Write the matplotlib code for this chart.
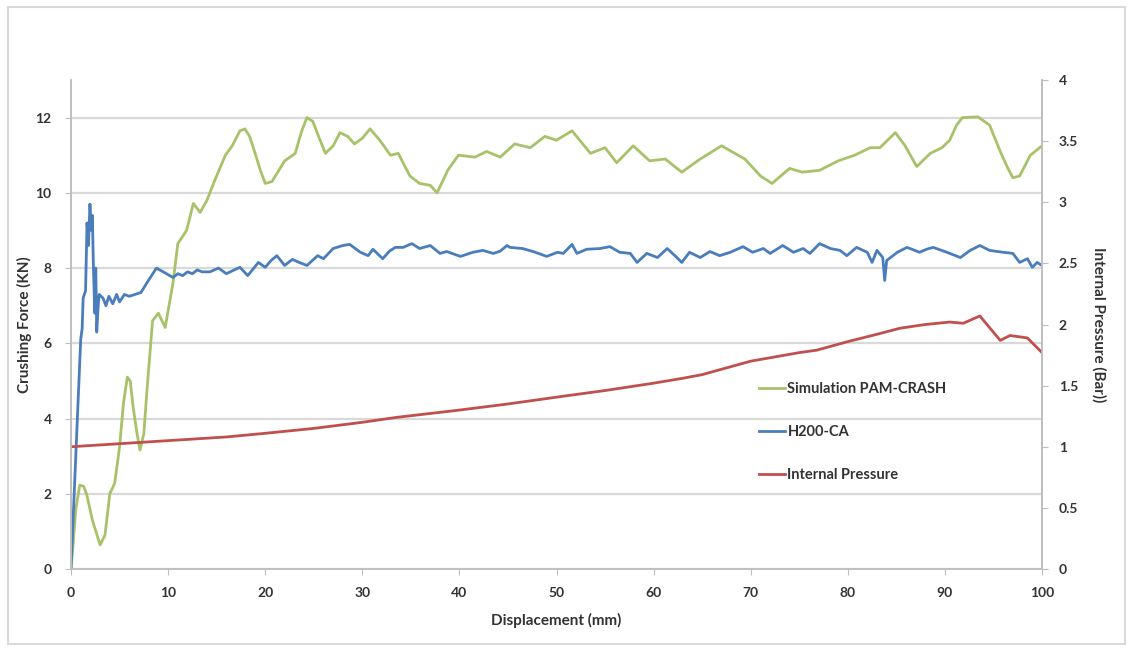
import matplotlib.pyplot as plt
from matplotlib.patches import Rectangle

plt.rcParams['font.family'] = ['Lato', 'DejaVu Sans']

# Simulation PAM-CRASH (KN)
sim_x = [0, 0.2, 0.5, 0.9, 1.3, 1.6, 2.2, 3.0, 3.5, 4.0, 4.5, 5.0, 5.4, 5.8, 6.1, 6.4,
         6.8, 7.1, 7.5, 7.8, 8.4, 9.0, 9.7, 10.5, 11.0, 11.9, 12.6, 13.3, 14.0, 14.8,
         15.9, 16.6, 17.4, 17.9, 18.4, 18.9, 19.5, 20.0, 20.7, 22.0, 23.1, 23.7, 24.3,
         24.9, 25.5, 26.2, 27.0, 27.7, 28.5, 29.2, 30.0, 30.8, 31.8, 32.9, 33.7, 34.9,
         35.9, 37.0, 37.7, 38.8, 39.9, 41.6, 42.8, 44.2, 45.7, 47.3, 48.8, 50.0, 51.6,
         53.5, 55.0, 56.2, 57.9, 59.6, 61.2, 62.9, 64.8, 67.0, 69.4, 71.0, 72.2, 74.0,
         75.3, 77.1, 79.0, 80.7, 82.3, 83.3, 84.3, 84.9, 85.9, 87.1, 88.5, 89.7, 90.5,
         91.2, 91.8, 93.4, 94.6, 95.7, 96.4, 97.0, 97.7, 98.3, 98.8, 100]
sim_y = [0, 0.6, 1.6, 2.23, 2.2, 2.0, 1.3, 0.64, 0.9, 2.0, 2.28, 3.24, 4.4, 5.1, 5.0, 4.3,
         3.6, 3.16, 3.6, 4.67, 6.6, 6.8, 6.42, 7.6, 8.65, 9.0, 9.72, 9.48, 9.8, 10.33,
         11.0, 11.25, 11.65, 11.7, 11.5, 11.1, 10.6, 10.25, 10.3, 10.85, 11.05, 11.6, 12.0,
         11.9, 11.5, 11.05, 11.25, 11.6, 11.5, 11.3, 11.45, 11.7, 11.4, 11.0, 11.05, 10.45,
         10.25, 10.2, 10.0, 10.6, 11.0, 10.95, 11.1, 10.95, 11.3, 11.2, 11.5, 11.4, 11.65,
         11.05, 11.2, 10.8, 11.25, 10.85, 10.9, 10.55, 10.9, 11.25, 10.9, 10.45, 10.25, 10.65,
         10.55, 10.6, 10.85, 11.0, 11.2, 11.2, 11.45, 11.6, 11.25, 10.7, 11.05, 11.2, 11.4,
         11.8, 12.0, 12.02, 11.8, 11.1, 10.7, 10.4, 10.45, 10.75, 11.0, 11.25]

# H200-CA test (KN)
test_x = [0, 1.0, 1.15, 1.25, 1.5, 1.65, 1.8, 1.95, 2.1, 2.2, 2.3, 2.45, 2.55, 2.65,
          2.8, 2.9, 3.3, 3.6, 3.9, 4.3, 4.7, 5.0, 5.5, 6.0, 6.6, 7.2, 7.8, 8.8, 9.5,
          10.5, 11.0, 11.5, 12.0, 12.5, 13.0, 13.5, 14.3, 15.2, 16.0, 16.8, 17.4, 18.2,
          19.3, 20.0, 20.6, 21.2, 22.0, 22.8, 23.5, 24.3, 25.4, 26.0, 27.0, 28.0, 28.7,
          29.8, 30.6, 31.1, 32.1, 32.8, 33.4, 34.2, 35.1, 35.9, 37.0, 38.0, 38.7, 40.1,
          41.4, 42.4, 43.5, 44.2, 44.9, 45.2, 46.5, 47.6, 49.0, 50.1, 50.7, 51.6, 52.1,
          53.1, 54.5, 55.5, 56.5, 57.6, 58.3, 59.3, 60.4, 61.4, 62.4, 62.9, 63.7, 64.8,
          65.8, 66.8, 67.9, 69.2, 70.2, 71.3, 72.0, 73.3, 74.4, 75.4, 76.1, 77.1, 78.2,
          79.2, 79.9, 80.9, 82.0, 82.5, 83.0, 83.6, 83.8, 84.0, 85.1, 86.1, 87.4, 88.1,
          88.8, 90.2, 91.6, 92.6, 93.6, 94.6, 96.0, 97.0, 97.7, 98.5, 99.0, 99.5, 100]
test_y = [0, 6.1, 6.4, 7.2, 7.4, 9.2, 8.6, 9.7, 9.0, 9.4, 8.1, 6.8, 8.0, 6.3,
          7.0, 7.3, 7.2, 7.0, 7.25, 7.05, 7.3, 7.1, 7.3, 7.25, 7.3, 7.35, 7.6, 8.0, 7.9,
          7.75, 7.85, 7.8, 7.9, 7.85, 7.95, 7.9, 7.9, 8.0, 7.85, 7.95, 8.02, 7.8,
          8.15, 8.02, 8.2, 8.33, 8.07, 8.23, 8.15, 8.07, 8.33, 8.25, 8.52, 8.6, 8.63,
          8.42, 8.33, 8.5, 8.25, 8.45, 8.55, 8.55, 8.65, 8.52, 8.6, 8.39, 8.44, 8.31,
          8.42, 8.47, 8.39, 8.45, 8.6, 8.55, 8.52, 8.44, 8.31, 8.42, 8.39, 8.63, 8.39,
          8.5, 8.52, 8.57, 8.42, 8.39, 8.15, 8.39, 8.28, 8.52, 8.28, 8.15, 8.42, 8.28,
          8.44, 8.33, 8.42, 8.57, 8.42, 8.52, 8.39, 8.6, 8.42, 8.52, 8.39, 8.65, 8.52,
          8.47, 8.33, 8.55, 8.42, 8.15, 8.47, 8.28, 7.67, 8.2, 8.42, 8.55, 8.42, 8.5,
          8.55, 8.42, 8.28, 8.47, 8.6, 8.47, 8.42, 8.39, 8.15, 8.25, 8.02, 8.15, 8.07]

# Internal pressure (Bar)
pres_x = [0, 10, 16, 20, 25, 30, 33.5, 40, 45, 50.4, 55, 60, 63, 65, 70, 75, 76.8,
          80, 83, 85.4, 88, 90.5, 91.9, 93.6, 95.7, 96.7, 98.5, 100]
pres_y = [1.0, 1.05, 1.08, 1.11, 1.15, 1.2, 1.24, 1.3, 1.35, 1.41, 1.46, 1.52, 1.56,
          1.59, 1.7, 1.77, 1.79, 1.86, 1.92, 1.97, 2.0, 2.02, 2.01, 2.07, 1.87, 1.91,
          1.89, 1.77]

green = '#A8C26A'
blue = '#4A7DBB'
red = '#C0504D'
tick_col = '#333333'

fig = plt.figure(figsize=(11.29, 6.48), dpi=100)
fig.patches.append(Rectangle((8 / 1129, 4 / 648), 1117 / 1129, 637 / 648,
                             transform=fig.transFigure, fill=False,
                             edgecolor='#d9d9d9', linewidth=1.5))

ax = fig.add_axes([71 / 1129, 79 / 648, 971 / 1129, 489 / 648])
ax2 = ax.twinx()

l1, = ax.plot(sim_x, sim_y, color=green, lw=2.0, label='Simulation PAM-CRASH')
l2, = ax.plot(test_x, test_y, color=blue, lw=2.0, label='H200-CA')
l3, = ax2.plot(pres_x, pres_y, color=red, lw=2.0, label='Internal Pressure')

ax.set_xlim(0, 100)
ax.set_ylim(0, 13)
ax2.set_ylim(0, 4)
ax.set_xticks(range(0, 101, 10))
ax.set_yticks(range(0, 13, 2))
ax2.set_yticks([0, 0.5, 1, 1.5, 2, 2.5, 3, 3.5, 4])
ax2.set_yticklabels(['0', '0.5', '1', '1.5', '2', '2.5', '3', '3.5', '4'])

ax.grid(axis='y', color='#d9d9d9', lw=1.6)
ax.set_axisbelow(True)

for a in (ax, ax2):
    a.spines['top'].set_visible(False)
    for s in ('left', 'right', 'bottom'):
        a.spines[s].set_color('#bfbfbf')
        a.spines[s].set_linewidth(1.2)
    a.tick_params(colors='#bfbfbf', labelcolor=tick_col, labelsize=10, length=4)
    for lab in a.get_xticklabels() + a.get_yticklabels():
        lab.set_fontweight('bold')
ax.tick_params(axis='x', pad=9)
ax.tick_params(axis='y', pad=10)
ax2.tick_params(axis='y', pad=8)

ax.set_xlabel('Displacement (mm)', fontsize=11, fontweight='bold', color=tick_col, labelpad=10)
ax.set_ylabel('Crushing Force (KN)', fontsize=11, fontweight='bold', color=tick_col)
ax.yaxis.set_label_coords(-0.04, 0.5)
ax2.set_ylabel('Internal Pressure (Bar))', fontsize=11, fontweight='bold', color=tick_col,
               rotation=270, labelpad=20)

leg = ax.legend(handles=[l1, l2, l3], loc='upper left', bbox_to_anchor=(0.695, 0.41),
                frameon=False, handlelength=1.8, handletextpad=0.15, labelspacing=2.0,
                prop={'size': 10.5, 'weight': 'bold'})
for t in leg.get_texts():
    t.set_color(tick_col)

fig.savefig('out.png', dpi=100)
